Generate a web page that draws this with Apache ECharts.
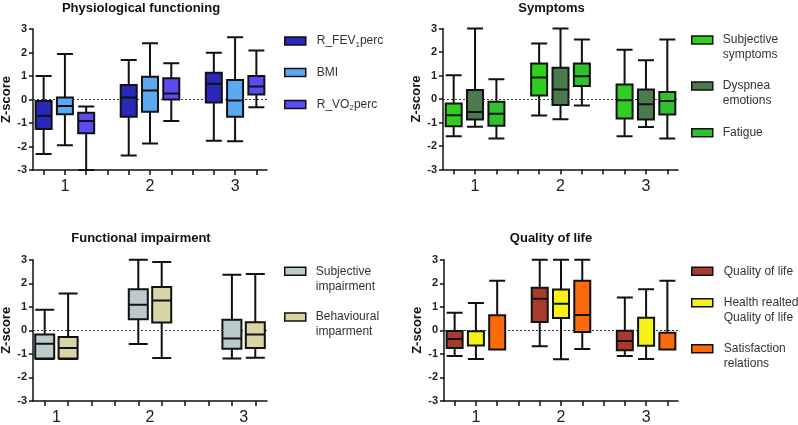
<!DOCTYPE html>
<html>
<head>
<meta charset="utf-8">
<script src="https://cdn.jsdelivr.net/npm/echarts@6/dist/echarts.min.js"></script>
<style>html,body{margin:0;padding:0;background:#fff}#c{width:798px;height:425px}</style>
</head>
<body>
<div id="c"></div>
<script>
// ---- data: each box = [min, Q1, median, Q3, max], one entry per group ----
const groupLabels = ['1', '2', '3'];
const yTicks = [-3, 3, 1];

const fev1 = [[-2.32, -1.26, -0.69, -0.06, 1.00], [-2.38, -0.73, 0.08, 0.62, 1.68], [-1.75, -0.13, 0.67, 1.14, 1.99]];
const bmi = [[-1.95, -0.63, -0.28, 0.08, 1.94], [-1.87, -0.52, 0.38, 0.97, 2.39], [-1.78, -0.73, -0.04, 0.83, 2.65]];
const vo2 = [[-3.00, -1.44, -0.91, -0.56, -0.30], [-0.91, 0.00, 0.26, 0.90, 1.54], [-0.33, 0.21, 0.55, 1.00, 2.08]];

const subjSymptoms = [[-1.58, -1.16, -0.69, -0.19, 1.01], [-0.70, 0.15, 0.91, 1.51, 2.36], [-1.58, -0.83, -0.05, 0.62, 2.10]];
const dyspnea = [[-1.18, -0.87, -0.55, 0.38, 3.00], [-0.86, -0.26, 0.40, 1.33, 3.00], [-1.19, -0.87, -0.22, 0.40, 1.65]];
const fatigue = [[-1.68, -1.14, -0.63, -0.12, 0.84], [-0.28, 0.55, 0.97, 1.51, 2.53], [-1.68, -0.66, -0.09, 0.30, 2.53]];

const subjImpair = [[-1.22, -1.20, -0.57, -0.18, 0.88], [-0.58, 0.47, 1.09, 1.75, 3.00], [-1.20, -0.78, -0.35, 0.45, 2.36]];
const behavImpair = [[-1.22, -1.20, -0.75, -0.28, 1.56], [-1.17, 0.33, 1.27, 1.84, 2.90], [-1.16, -0.75, -0.18, 0.34, 2.39]];

const qol = [[-1.09, -0.75, -0.37, -0.03, 0.75], [-0.68, 0.35, 1.34, 1.81, 3.00], [-1.09, -0.84, -0.45, -0.02, 1.40]];
const hrqol = [[-1.22, -0.64, -0.64, -0.04, 1.16], [-1.23, 0.52, 1.13, 1.73, 3.00], [-1.22, -0.65, -0.65, 0.54, 1.74]];
const satisfaction = [[-0.81, -0.81, -0.81, 0.64, 2.11], [-0.79, -0.07, 0.65, 2.11, 3.00], [-0.81, -0.81, -0.81, -0.10, 2.11]];

// ---- layout / style ----
const FONT = 'Liberation Sans, Arial, Helvetica, sans-serif';
const INK = '#111';
const panels = [
  { title: 'Physiological functioning', tx: 141, ty: 8.5,
    grid: { left: 33, top: 29, width: 234, height: 141 }, slots: 11, boxW: 16, labelOffset: 1,
    legendX: 284, legendPad: 6,
    series: [
      { name: 'R_FEV1perc', label: '{t|R_FEV}{s|1}{t|perc}', color: '#2828b8', data: fev1, ly: 41, multi: false },
      { name: 'BMI', label: 'BMI', color: '#5aaaf2', data: bmi, ly: 72.5, multi: false },
      { name: 'R_VO2perc', label: '{t|R_VO}{s|2}{t|perc}', color: '#5a4cf2', data: vo2, ly: 104.5, multi: false }
    ] },
  { title: 'Symptoms', tx: 551.5, ty: 8.5,
    grid: { left: 443, top: 28.5, width: 235, height: 141 }, slots: 11, boxW: 16, labelOffset: 1,
    legendX: 691, legendPad: 5,
    series: [
      { name: 'Subjective symptoms', label: 'Subjective\nsymptoms', color: '#2fcf1f', data: subjSymptoms, ly: 40, multi: true },
      { name: 'Dyspnea emotions', label: 'Dyspnea\nemotions', color: '#4b7a4f', data: dyspnea, ly: 86, multi: true },
      { name: 'Fatigue', label: 'Fatigue', color: '#31c12f', data: fatigue, ly: 132.7, multi: false }
    ] },
  { title: 'Functional impairment', tx: 141, ty: 238.7,
    grid: { left: 33, top: 259.7, width: 234, height: 141.3 }, slots: 10, boxW: 19, labelOffset: 0.5,
    legendX: 284, legendPad: 5,
    series: [
      { name: 'Subjective impairment', label: 'Subjective\nimpairment', color: '#bccacb', data: subjImpair, ly: 271.3, multi: true },
      { name: 'Behavioural imparment', label: 'Behavioural\nimparment', color: '#d8d5a6', data: behavImpair, ly: 317, multi: true }
    ] },
  { title: 'Quality of life', tx: 551, ty: 238.7,
    grid: { left: 444, top: 259.7, width: 234, height: 141.3 }, slots: 11, boxW: 16, labelOffset: 1,
    legendX: 691, legendPad: 6,
    series: [
      { name: 'Quality of life', label: 'Quality of life', color: '#a83b2e', data: qol, ly: 271.3, multi: false },
      { name: 'Health realted Quality of life', label: 'Health realted\nQuality of life', color: '#f7f11a', data: hrqol, ly: 302.7, multi: true },
      { name: 'Satisfaction relations', label: 'Satisfaction\nrelations', color: '#fb6a0c', data: satisfaction, ly: 348.7, multi: true }
    ] }
];

const option = { animation: false, backgroundColor: '#fff', grid: [], xAxis: [], yAxis: [], series: [], legend: [], graphic: [] };
const axisLineStyle = { color: INK, width: 1.5 };

panels.forEach((p, pi) => {
  option.grid.push(Object.assign({ containLabel: false, outerBoundsMode: 'none' }, p.grid));
  option.graphic.push({ type: 'text', x: p.tx, y: p.ty, silent: true,
    style: { text: p.title, font: 'bold 13px ' + FONT, fill: INK, align: 'center', verticalAlign: 'middle', textAlign: 'center', textVerticalAlign: 'middle' } });

  option.yAxis.push({ gridIndex: pi, type: 'value', min: yTicks[0], max: yTicks[1], interval: yTicks[2],
    position: 'left',
    name: 'Z-score', nameLocation: 'middle', nameGap: 20,
    nameTextStyle: { fontWeight: 'bold', fontSize: 13, color: INK, fontFamily: FONT },
    axisLine: { show: true, onZero: false, lineStyle: axisLineStyle },
    axisTick: { show: true, length: 4, lineStyle: axisLineStyle },
    axisLabel: { fontWeight: 'bold', fontSize: 11, color: '#222', margin: 6, fontFamily: FONT },
    splitLine: { show: false } });

  // tick axis: one slot per box position (plus gap slots)
  const slotNames = [];
  for (let i = 0; i < p.slots; i++) slotNames.push('s' + i);
  const slotLabel = {};
  if (p.labelOffset % 1 === 0) groupLabels.forEach((g, gi) => { slotLabel[gi * 4 + p.labelOffset] = g; });
  option.xAxis.push({ gridIndex: pi, type: 'category', data: slotNames, boundaryGap: true, position: 'bottom',
    axisLine: { show: true, onZero: false, lineStyle: axisLineStyle },
    axisTick: { show: true, alignWithLabel: true, interval: 0, length: 5, lineStyle: axisLineStyle },
    axisLabel: { show: p.labelOffset % 1 === 0, interval: 0, fontSize: 16, color: '#222', margin: 9, fontFamily: FONT,
      formatter: (v, idx) => slotLabel[idx] || '' },
    splitLine: { show: false } });

  if (p.labelOffset % 1 !== 0) {
    // label axis with double-width bands so the group label sits between its two boxes
    const cats = [];
    for (let i = 0; i < p.slots / 2; i++) cats.push(i % 2 === 0 ? groupLabels[i / 2] : '');
    option.xAxis.push({ gridIndex: pi, type: 'category', data: cats, boundaryGap: true, position: 'bottom',
      axisLine: { show: false, onZero: false }, axisTick: { show: false },
      axisLabel: { interval: 0, fontSize: 16, color: '#222', margin: 9, fontFamily: FONT },
      splitLine: { show: false } });
  }

  p.series.forEach((s, si) => {
    const xi = option.xAxis.length;
    option.xAxis.push({ gridIndex: pi, type: 'value', min: -0.5, max: p.slots - 0.5, show: false, position: 'bottom',
      axisLine: { onZero: false }, splitLine: { show: false } });
    const ser = { type: 'boxplot', name: s.name, xAxisIndex: xi, yAxisIndex: pi, layout: 'horizontal',
      boxWidth: [p.boxW, p.boxW],
      itemStyle: { color: s.color, borderColor: INK, borderWidth: 2 },
      emphasis: { disabled: true }, silent: true,
      data: s.data.map((v, g) => [g * 4 + si].concat(v)) };
    if (si === 0) {
      ser.markLine = { silent: true, symbol: 'none', z: 1, animation: false, label: { show: false },
        lineStyle: { type: [2, 2], color: '#333', width: 1 }, data: [{ yAxis: 0 }] };
    }
    option.series.push(ser);

    option.legend.push({ data: [{ name: s.name, icon: 'rect' }], left: p.legendX,
      top: s.ly - (s.multi ? 22.5 : 7.5), orient: 'vertical', padding: 0,
      itemWidth: 21, itemHeight: 8, selectedMode: false,
      itemStyle: { color: s.color, borderColor: INK, borderWidth: 1.5 },
      formatter: () => s.label,
      textStyle: { fontSize: 12, lineHeight: 15, color: '#333', fontFamily: FONT,
        padding: [s.multi ? 15 : 0, 0, 0, p.legendPad],
        rich: { t: { fontSize: 12, lineHeight: 15, color: '#333', fontFamily: FONT },
                s: { fontSize: 8, lineHeight: 9, color: '#333', fontFamily: FONT, verticalAlign: 'bottom' } } } });
  });
});

const chart = echarts.init(document.getElementById('c'), null, { renderer: 'canvas' });
chart.setOption(option);
</script>
</body>
</html>
